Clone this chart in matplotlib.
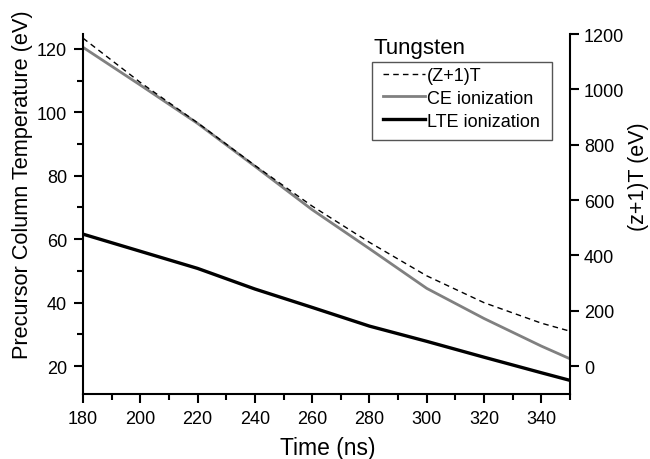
import numpy as np
import matplotlib
matplotlib.use("Agg")
from matplotlib import pyplot as plt
from matplotlib.ticker import MultipleLocator
from matplotlib.patches import Rectangle

plt.rcParams['font.family'] = ['Liberation Sans', 'DejaVu Sans']

# data
time_ns = [180, 200, 220, 240, 260, 280, 300, 320, 340, 350]
ce_temp = [120.5, 108.6, 96.5, 83.0, 69.3, 57.0, 44.5, 35.0, 26.3, 22.3]
lte_temp = [61.6, 56.2, 50.8, 44.3, 38.5, 32.6, 27.8, 22.8, 17.9, 15.5]
zt_temp = [1185, 1025, 879, 725, 578, 447, 326, 229, 155, 126]

x_ticks = [180, 200, 220, 240, 260, 280, 300, 320, 340]
left_ticks = [20, 40, 60, 80, 100, 120]
right_ticks = [0, 200, 400, 600, 800, 1000, 1200]

W, H = 650, 460
fig = plt.figure(figsize=(6.5, 4.6), dpi=100)
ax = fig.add_axes([83/W, 1 - 395/H, (570 - 83)/W, (395 - 35)/H])
ax2 = ax.twinx()

l_ce, = ax.plot(time_ns, ce_temp, color='#808080', lw=2.0, label='CE ionization')
l_lte, = ax.plot(time_ns, lte_temp, color='black', lw=2.4, label='LTE ionization')
l_zt, = ax2.plot(time_ns, zt_temp, color='black', lw=1.0, ls=(0, (4, 3)), label='(Z+1)T')

ax.set_xlim(180, 350)
ax.set_ylim(11.2, 124.7)
ax2.set_ylim(-101, 1200)

ax.set_xticks(x_ticks)
ax.xaxis.set_minor_locator(MultipleLocator(10))
ax.set_yticks(left_ticks)
ax.yaxis.set_minor_locator(MultipleLocator(10))
ax2.set_yticks(right_ticks)

for a in (ax, ax2):
    a.spines['top'].set_visible(False)
    for s in a.spines.values():
        s.set_linewidth(1.5)
    a.tick_params(which='major', direction='out', length=6.5, width=1.5, labelsize=13)
    a.tick_params(which='minor', direction='out', length=4, width=1.5)
ax.tick_params(axis='both', which='major', pad=5)
ax2.tick_params(axis='y', which='major', pad=3.5)
ax.spines['right'].set_visible(False)
ax2.spines['left'].set_visible(False)
ax2.spines['bottom'].set_visible(False)

ax.set_xlabel('Time (ns)', fontsize=16.5)
ax.xaxis.set_label_coords((327.5 - 83)/487, -42/360)
ax.set_ylabel('Precursor Column Temperature (eV)', fontsize=15.7)
ax.yaxis.set_label_coords((33 - 83)/487, (395 - 185)/360)
ax2.set_ylabel('(z+1)T (eV)', fontsize=15.5)
ax2.yaxis.set_label_coords((628 - 83)/487, (395 - 177)/360)

fig.text(373/W, 1 - 49/H, 'Tungsten', fontsize=16, va='center', ha='left')
fig.add_artist(Rectangle((372/W, 1 - 141/H), 180/W, 78/H, transform=fig.transFigure,
                         fill=False, edgecolor='#555555', lw=1.0))
leg = ax2.legend(handles=[l_zt, l_ce, l_lte], loc='upper left',
                 bbox_to_anchor=(383/W, 1 - 68/H), bbox_transform=fig.transFigure,
                 borderaxespad=0, borderpad=0, frameon=False,
                 fontsize=13, handlelength=2.3, handletextpad=0.15, labelspacing=0.32)

fig.savefig('out.png', dpi=100)
